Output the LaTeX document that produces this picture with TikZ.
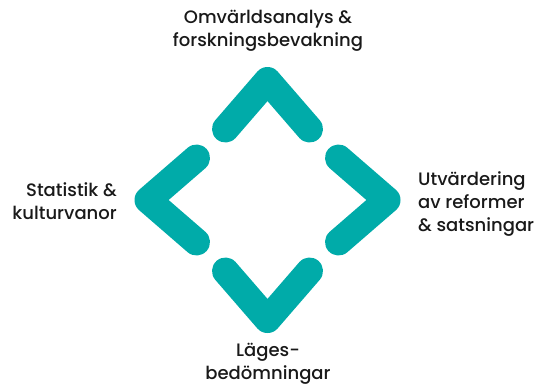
\documentclass[tikz,border=0pt]{standalone}
\usepackage{fontspec}
\setmainfont{Poppins}[UprightFont={* Medium}]
\definecolor{chevc}{RGB}{0,171,169}
\tikzstyle{chevron} = [
  draw=chevc,
  line width=27pt,
  line cap=round,
  line join=round,
]
\tikzstyle{phase} = [
  font=\fontsize{18}{23}\selectfont,
  text=black!90,
  inner sep=0pt,
]

\begin{document}
\begin{tikzpicture}[x=1pt,y=-1pt]
      \useasboundingbox (0,0) rectangle (534,388);
      \def\radius{119.5}

      \coordinate (C) at (267.5,200);

      % Chevrons
      \begin{scope}[shift={(C)}]
        \foreach \a in {0,90,180,270}
          \draw[chevron, rotate=\a] (\radius-48.5,-42) -- (\radius,0) -- (\radius-48.5,42);
      \end{scope}

      % Labels
      \node[phase, align=center] (omv) at (268,31) {Omvärldsanalys \&\\forskningsbevakning};
      \node[phase, align=left, anchor=west] (utv) at (418,204) {Utvärdering\\av reformer\\\& satsningar};
      \node[phase, align=center] (lag) at (268,364) {Läges-\\bedömningar};
      \node[phase, align=right, anchor=east] (sta) at (117,201) {Statistik \&\\kulturvanor};
    \end{tikzpicture}
\end{document}
